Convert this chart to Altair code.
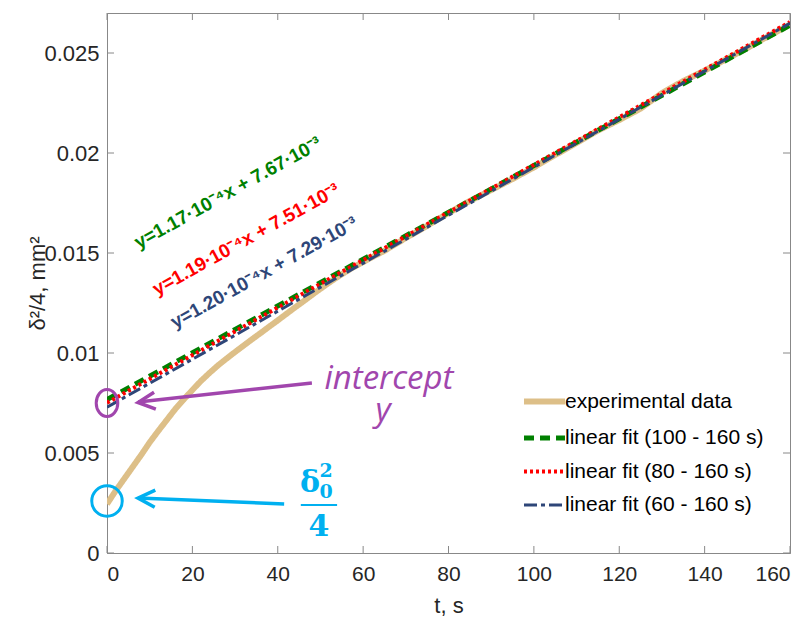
import altair as alt
import pandas as pd

# ---------------- data ----------------
exp_t = [0, 2, 4, 6, 8, 10, 12, 14, 16, 18, 20, 22, 24, 26, 28, 30, 32, 34, 36, 38, 40,
         42, 44, 46, 48, 50, 52, 54, 56, 58, 60, 62, 65, 70, 75, 80, 85, 90, 95, 100,
         105, 110, 115, 120, 125, 130, 135, 140, 145, 150, 155, 160]
exp_y = [0.00245, 0.0031, 0.0037, 0.0043, 0.0049, 0.00553, 0.0061, 0.00665, 0.0072,
         0.00768, 0.00815, 0.0086, 0.0090, 0.00938, 0.00972, 0.01005, 0.01037, 0.01069,
         0.0110, 0.01132, 0.01163, 0.01195, 0.01227, 0.01258, 0.0129, 0.01321, 0.01351,
         0.0138, 0.01407, 0.01432, 0.01455, 0.01478, 0.01511, 0.01575, 0.01636, 0.01700,
         0.01760, 0.01815, 0.01870, 0.01928, 0.01990, 0.02050, 0.02112, 0.02165, 0.02222,
         0.02300, 0.02360, 0.02412, 0.02468, 0.02525, 0.02585, 0.02642]

fit_t = [0, 160]
fit100_y = [0.00767, 0.02639]
fit80_y = [0.00751, 0.02655]
fit60_y = [0.00729, 0.02649]

series_names = ["experimental data", "linear fit (100 - 160 s)",
                "linear fit (80 - 160 s)", "linear fit (60 - 160 s)"]
series_colors = ["#DDBF88", "#008000", "#FF0000", "#2E4678"]
series_dash = [[1, 0], [10, 6], [3, 3], [13, 4, 4, 4]]
series_width = [6, 3, 3, 3]

x_ticks = [0, 20, 40, 60, 80, 100, 120, 140, 160]
y_ticks = [0, 0.005, 0.01, 0.015, 0.02, 0.025]

eq_text = ["y=1.17·10⁻⁴x + 7.67·10⁻³", "y=1.19·10⁻⁴x + 7.51·10⁻³", "y=1.20·10⁻⁴x + 7.29·10⁻³"]
eq_t = [28.3, 32.6, 36.8]
eq_y = [0.01801, 0.01568, 0.01402]
eq_color = ["#008000", "#FF0000", "#2E4678"]

purple = "#A146AD"
cyan = "#00B0F0"

# ---------------- table ----------------
rows = []
for t, v in zip(exp_t, exp_y):
    rows.append({"t": t, "v": v, "series": series_names[0], "o": 0})
for name, ys_, o in [(series_names[1], fit100_y, 1), (series_names[2], fit80_y, 2), (series_names[3], fit60_y, 3)]:
    for t, v in zip(fit_t, ys_):
        rows.append({"t": t, "v": v, "series": name, "o": o})
df = pd.DataFrame(rows)

W, H = 683, 540
FONT = "Liberation Sans"
AX = "#888888"
TXT = "#262626"

xs = alt.Scale(domain=[0, 160], nice=False, zero=False)
ys = alt.Scale(domain=[0, 0.027], nice=False, zero=False)
xaxis = alt.Axis(values=x_ticks, tickSize=0, labelPadding=10, labelFontSize=21, titleFontSize=22,
                 grid=False, domainColor=AX, labelColor=TXT, titleColor=TXT, labelFont=FONT,
                 titleFont=FONT, titleFontWeight="normal", titlePadding=11)
yaxis = alt.Axis(values=y_ticks, format="~g", tickSize=0, labelPadding=8, labelFontSize=22,
                 titleFontSize=22, grid=False, domainColor=AX, labelColor=TXT, titleColor=TXT,
                 labelFont=FONT, titleFont=FONT, titleFontWeight="normal", titlePadding=-6)


def X(f):
    return alt.X(f, type="quantitative", scale=xs, axis=xaxis, title="t, s")


def Y(f):
    return alt.Y(f, type="quantitative", scale=ys, axis=yaxis, title="δ²/4, mm²")


def leg():
    return alt.Legend(title=None, orient="none", legendX=424, legendY=375,
                      symbolType="M-2,0L2,0", symbolSize=420, labelFontSize=21,
                      labelFont=FONT, labelColor="#000000", labelOffset=7,
                      rowPadding=11, padding=0, labelLimit=400)


lines = alt.Chart(df).mark_line(clip=True).encode(
    x=X("t"), y=Y("v"),
    color=alt.Color("series:N", scale=alt.Scale(domain=series_names, range=series_colors), legend=leg()),
    strokeDash=alt.StrokeDash("series:N", scale=alt.Scale(domain=series_names, range=series_dash), legend=leg()),
    strokeWidth=alt.StrokeWidth("series:N", scale=alt.Scale(domain=series_names, range=series_width), legend=leg()),
    order=alt.Order("o:Q"),
    detail="series:N",
)

# inward ticks on all four sides
xt = pd.DataFrame({"v": x_ticks})
yt = pd.DataFrame({"v": y_ticks})
tick_left = alt.Chart(yt).mark_rule(color=AX).encode(y=Y("v"), x=alt.value(0), x2=alt.value(7))
tick_right = alt.Chart(yt).mark_rule(color=AX).encode(y=Y("v"), x=alt.value(W), x2=alt.value(W - 7))
tick_bottom = alt.Chart(xt).mark_rule(color=AX).encode(x=X("v"), y=alt.value(H), y2=alt.value(H - 7))
tick_top = alt.Chart(xt).mark_rule(color=AX).encode(x=X("v"), y=alt.value(0), y2=alt.value(7))

# equations
eq_layers = []
for txt, t, v, c in zip(eq_text, eq_t, eq_y, eq_color):
    eq_layers.append(
        alt.Chart(pd.DataFrame({"t": [t], "v": [v], "s": [txt]})).mark_text(
            angle=331, font=FONT, fontSize=19, fontWeight="bold", color=c,
            align="center", baseline="middle").encode(x=X("t"), y=Y("v"), text="s:N"))

# intercept annotation
purple_circle = alt.Chart(pd.DataFrame({"t": [0], "v": [0.0075]})).mark_point(
    shape="M-0.8,0A0.8,1,0,1,1,0.8,0A0.8,1,0,1,1,-0.8,0Z", size=729, filled=False,
    strokeWidth=3, color=purple, opacity=1).encode(x=X("t"), y=Y("v"))
purple_line = alt.Chart(pd.DataFrame({"t": [7.3, 48.0], "v": [0.00755, 0.0085]})).mark_line(
    color=purple, strokeWidth=3.5).encode(x=X("t"), y=Y("v"))
purple_head = alt.Chart(pd.DataFrame({"t": [9.25], "v": [0.00757]})).mark_point(
    shape="M1,-1L-1,0L1,1", size=289, filled=False, strokeWidth=3.5, color=purple,
    angle=354, opacity=1).encode(x=X("t"), y=Y("v"))
purple_text = alt.Chart(pd.DataFrame({"t": [66.05, 64.65], "v": [0.0082, 0.0066],
                                      "s": ["intercept", "y"]})).mark_text(
    font="Open Sans", fontStyle="italic", fontSize=33, color=purple, align="center",
    baseline="alphabetic").encode(x=X("t"), y=Y("v"), text="s:N")

# delta_0^2 / 4 annotation
cyan_circle = alt.Chart(pd.DataFrame({"t": [0], "v": [0.0026]})).mark_point(
    shape="circle", size=930, filled=False, strokeWidth=3, color=cyan, opacity=1).encode(
    x=X("t"), y=Y("v"))
cyan_line = alt.Chart(pd.DataFrame({"t": [7.3, 41.5], "v": [0.00275, 0.00245]})).mark_line(
    color=cyan, strokeWidth=3.5).encode(x=X("t"), y=Y("v"))
cyan_head = alt.Chart(pd.DataFrame({"t": [9.25], "v": [0.00273]})).mark_point(
    shape="M1,-1L-1,0L1,1", size=289, filled=False, strokeWidth=3.5, color=cyan,
    angle=2, opacity=1).encode(x=X("t"), y=Y("v"))
frac_big = alt.Chart(pd.DataFrame({"t": [47.55, 49.66], "v": [0.00305, 0.00085],
                                   "s": ["δ", "4"]})).mark_text(
    font="DejaVu Serif", fontWeight="bold", fontSize=30, color=cyan, align="center",
    baseline="alphabetic").encode(x=X("t"), y=Y("v"), text="s:N")
frac_small = alt.Chart(pd.DataFrame({"t": [51.3, 51.3], "v": [0.00275, 0.00378],
                                     "s": ["0", "2"]})).mark_text(
    font="DejaVu Serif", fontWeight="bold", fontSize=19, color=cyan, align="center",
    baseline="alphabetic").encode(x=X("t"), y=Y("v"), text="s:N")
frac_bar = alt.Chart(pd.DataFrame({"t": [45.4, 53.9], "v": [0.0024, 0.0024]})).mark_line(
    color=cyan, strokeWidth=2).encode(x=X("t"), y=Y("v"))

chart = alt.layer(
    lines, tick_left, tick_right, tick_bottom, tick_top, *eq_layers,
    purple_circle, purple_line, purple_head, purple_text,
    cyan_circle, cyan_line, cyan_head, frac_big, frac_small, frac_bar,
).properties(
    width=W, height=H,
    padding={"left": 18, "top": 4, "right": 5, "bottom": 0},
    background="white",
).configure_view(stroke=AX, strokeWidth=1).resolve_scale(
    color="shared", strokeDash="shared", strokeWidth="shared")

chart.save("out.html", embed_options={"renderer": "svg", "actions": False})
